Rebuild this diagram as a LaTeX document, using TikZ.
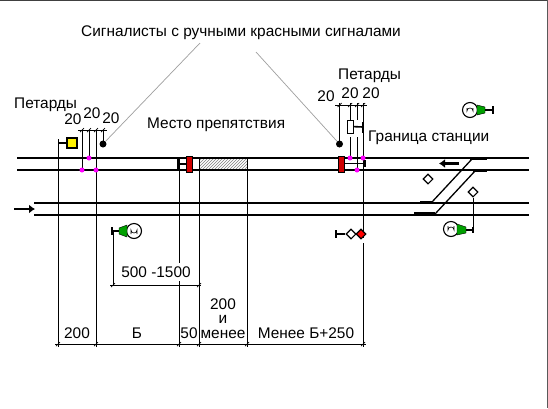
\documentclass[tikz,border=0pt]{standalone}
\usepackage{fontspec}
\setmainfont{Liberation Sans}
\usetikzlibrary{patterns,arrows.meta,shapes.geometric}
\definecolor{sigred}{HTML}{D00000}
\definecolor{siggreen}{HTML}{00A000}
\definecolor{pet}{HTML}{FF00FF}
\tikzset{
  x=1pt,y=-1pt,
  rail/.style={line width=2pt,black},
  dimline/.style={line width=.95pt,black},
  leader/.style={line width=.7pt,gray!75},
  lbl/.style={font=\fontsize{15.4}{15.4}\selectfont,inner sep=0pt,text=black},
  petard/.style={circle,fill=pet,inner sep=0pt,minimum size=5pt},
  redsig/.style={draw=black,line width=1pt,fill=sigred,inner sep=0pt,minimum width=6pt,minimum height=16pt},
  dot/.style={circle,fill=black,inner sep=0pt,minimum size=7pt},
  lamp/.style={circle,draw=black,line width=1.1pt,fill=white,inner sep=0pt,minimum size=15pt},
  dia/.style={diamond,draw=black,line width=1.1pt,fill=white,inner sep=0pt,minimum size=10pt},
  tick/.style={line width=.7pt,black},
  stub/.style={line width=2.4pt}
}
\begin{document}
\begin{tikzpicture}
\useasboundingbox (0,0) rectangle (548,408);
\fill[white] (0,0) rectangle (548,408);
\draw[line width=1pt,black!75] (0,.5)--(548,.5);
\draw[line width=1pt,black!65] (547.5,0)--(547.5,408);
% rails
\coordinate (u1a) at (17,158); \coordinate (u1b) at (529,158);
\coordinate (u2a) at (17,170); \coordinate (u2b) at (529,170);
\coordinate (l1a) at (34,203); \coordinate (l1b) at (529,203);
\coordinate (l2a) at (34,215); \coordinate (l2b) at (529,215);
% hatched
\fill[pattern=north east lines,pattern color=gray] (199,159) rectangle (247,169);
\draw[rail] (u1a)--(u1b); \draw[rail] (u2a)--(u2b); \draw[rail] (l1a)--(l1b); \draw[rail] (l2a)--(l2b);
% verticals
\draw[dimline] (58,139)--(58,347);
\draw[dimline] (82,130)--(82,170);
\draw[dimline] (89,130)--(89,158);
\draw[dimline] (96,130)--(96,347);
\draw[dimline] (103,130)--(103,144);
\draw[dimline] (179,158)--(179,347);
\draw[dimline] (199,158)--(199,347);
\draw[dimline] (247,158)--(247,347);
\draw[dimline] (339.5,103)--(339.5,144);
\draw[dimline] (350,103)--(350,120);\draw[dimline] (350,137)--(350,158);
\draw[dimline] (357,103)--(357,120);\draw[dimline] (357,137)--(357,170);
\draw[dimline] (363,103)--(363,238);\draw[dimline] (363,243)--(363,347);
% dimension lines
\draw[dimline] (78,130)--(107,130);
\draw[dimline] (335,105)--(367,105);
\draw[dimline] (55,344)--(366,344);
\draw[dimline] (110,285)--(201,285);
\draw[dimline] (113,231)--(113,285);
% leaders
\node[dot] (d1) at (103,144) {};
\node[dot] (d2) at (339.5,144) {};
\coordinate (lead1) at (200,43); \coordinate (lead2) at (256,52);
\draw[leader] (d1)--(lead1);
\draw[leader] (d2)--(lead2);
% labels
\node[lbl] at (241,33) {Сигналисты с ручными красными сигналами};
\node[lbl,anchor=west] at (14,105) {Петарды};
\node[lbl,anchor=west] at (338,76) {Петарды};
\node[lbl] at (73,119) {20};
\node[lbl] at (92,113) {20};
\node[lbl] at (111,118) {20};
\node[lbl] at (326,96) {20};
\node[lbl] at (350,93) {20};
\node[lbl] at (371,93) {20};
\node[lbl,anchor=west] at (147,125) {Место препятствия};
\node[lbl,anchor=west] at (368,138) {Граница станции};
\node[lbl,fill=white,inner xsep=1pt,inner ysep=4pt] at (156,272) {500 -1500};
\node[lbl] at (77,333) {200};
\node[lbl] at (137,333) {Б};
\node[lbl] at (189,333) {50};
\node[lbl] at (223,304) {200};
\node[lbl] at (223,319.5) {и};
\node[lbl] at (223,334) {менее};
\node[lbl] at (306,333) {Менее Б+250};
% rung and red signals
\draw[line width=1.6pt] (179,164)--(187,164);
\draw[line width=1.6pt] (178,157)--(178,171);
\node[redsig] (r1) at (189,164) {};
\draw[line width=1.6pt] (344,163.5)--(366,163.5);
\draw[line width=2.4pt] (365,160)--(365,167);
\node[redsig] (r2) at (341,164) {};
% petards
\node[petard] at (89,158) {};
\node[petard] at (82,170) {};
\node[petard] at (96,170) {};
\node[petard] at (350,158) {};
\node[petard] at (363,158) {};
\node[petard] at (357,170) {};
% yellow signal
\node[draw=black,line width=1.1pt,fill=yellow,minimum size=10pt,inner sep=0pt] (ys) at (72,143) {};
\draw[line width=1.6pt] (58,143)--(ys);
% white box on right
\node[draw=black,line width=1pt,fill=white,minimum width=6pt,minimum height=13pt,inner sep=0pt] (ws) at (350.5,126.5) {};
\coordinate (wsend) at (363,127);
\draw[line width=1.6pt] (ws)--(wsend);
\draw[line width=2.2pt] (363,122)--(363,133);
% signal top right
\node[lamp] (s1) at (470,110) {};
\fill[siggreen,draw=black,line width=.4pt] (477,105)--(485,107)--(485,113)--(477,115)--cycle;
\draw[line width=1.6pt] (485,110)--(493,110);
\draw[line width=2.2pt] (493,106)--(493,114);
\draw[line width=.6pt] (467,108)--(467,111) arc[start angle=180,end angle=360,radius=3]--(473,108);
% signal right bottom
\node[lamp] (s2) at (451,229) {};
\fill[siggreen,draw=black,line width=.4pt] (457,224)--(466,227)--(466,233)--(457,235)--cycle;
\draw[line width=1.6pt] (466,230)--(473,230);
\draw[line width=2.2pt] (473,227)--(473,233);
\node[dia] (d3) at (473,192) {};
\draw[dimline] (d3)--(473,230);
\draw[line width=.6pt] (448,226)--(448,230) arc[start angle=180,end angle=360,radius=3]--(454,226);
% left signal
\node[lamp] (s3) at (134,231) {};
\fill[siggreen,draw=black,line width=.4pt] (127,225)--(119,228)--(119,234)--(127,237)--cycle;
\draw[line width=1.6pt] (119,231)--(112,231);
\draw[line width=2.2pt] (112,227)--(112,235);
\draw[line width=.6pt] (131,234)--(131,230) arc[start angle=180,end angle=0,radius=3]--(137,234);
% lone diamond
\node[dia] at (428,179) {};
% dwarf
\node[dia] (w) at (351,234) {};
\node[dia,fill=red] (rd) at (361,234) {};
\draw[line width=1.6pt] (336,234)--(w);
\draw[line width=2.4pt] (336,230)--(336,238);
% switch
\draw[line width=1.3pt] (432,202)--(472,159);
\draw[line width=1.3pt] (435,214)--(475,171);
\draw[stub] (470,159)--(487,159);
\draw[stub] (473,170.5)--(487,170.5);
\draw[stub] (420,202)--(432,202);
\draw[line width=1.4pt] (414,213)--(435,213);
% arrows
\coordinate (a1s) at (14,209); \coordinate (a1e) at (35,209);
\coordinate (a2s) at (459,163.5); \coordinate (a2e) at (439,163.5);
\draw[line width=2.2pt,-{Latex[length=6pt,width=9pt]}] (a1s)--(a1e);
\draw[line width=2.2pt,-{Latex[length=6pt,width=9pt]}] (a2s)--(a2e);
% ticks
\foreach \x in {82,89,96,103}{\draw[tick] (\x-2,132)--(\x+2,128);}
\foreach \x in {339.5,350,357,363}{\draw[tick] (\x-2,107)--(\x+2,103);}
\foreach \x in {58,96,179,199,247,363}{\draw[tick] (\x-2,346)--(\x+2,342);}
\foreach \x in {113,199}{\draw[tick] (\x-2,287)--(\x+2,283);}
\end{tikzpicture}
\end{document}
